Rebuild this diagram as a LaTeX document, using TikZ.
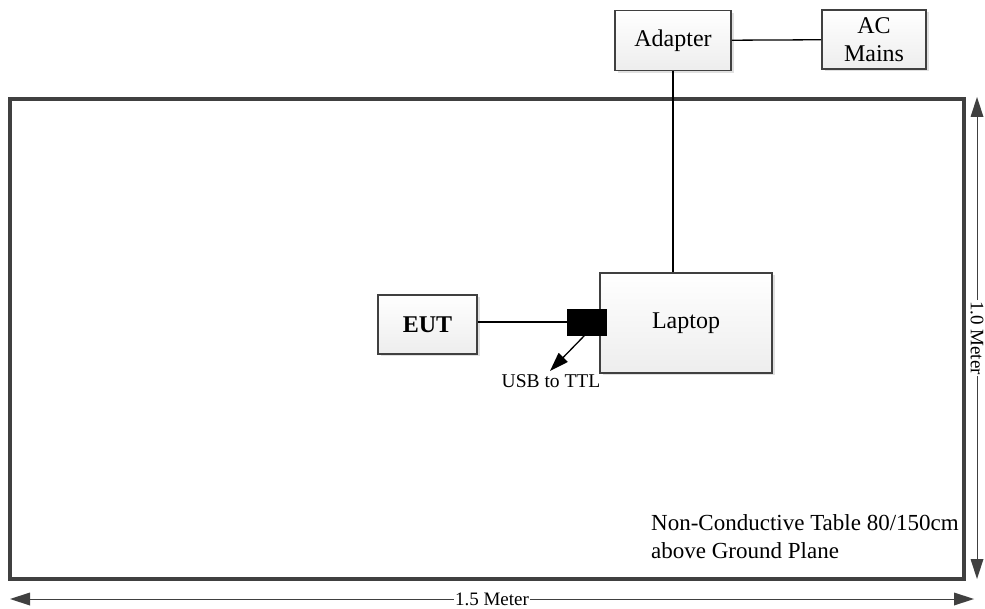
\documentclass[tikz,border=0pt]{standalone}
\usepackage{fontspec}
\setmainfont{Liberation Serif}
\usetikzlibrary{arrows.meta,shadows,calc}
\definecolor{edge}{HTML}{404040}
\tikzset{
  devbox/.style={draw=edge, line width=1.8pt, top color=white, bottom color=black!7,
    drop shadow={shadow xshift=2.5pt, shadow yshift=-2.5pt, fill=black!12, opacity=1},
    inner sep=0pt, align=center, font=\fontsize{24}{28}\selectfont},
  wire/.style={draw=black, line width=1.3pt},
  dimline/.style={draw=edge, line width=1pt},
  dimlabel/.style={fill=white, inner xsep=1pt, inner ysep=0pt, font=\fontsize{19}{22}\selectfont},
  tabletext/.style={anchor=base west, inner sep=0pt, font=\fontsize{23}{28}\selectfont},
  headtri/.style={fill=edge, draw=none}
}
\begin{document}
\begin{tikzpicture}[x=1pt,y=-1pt]
\useasboundingbox (0,0) rectangle (985,609);
% table
\draw[draw=edge, line width=3.5pt] (10,99) rectangle (964,579);
% boxes
\node[devbox, minimum width=116pt, minimum height=60pt] (adapter) at (673,40.5) {Adapter};
\node[devbox, minimum width=104pt, minimum height=59pt] (ac) at (874,39.5) {AC\\Mains};
\node[devbox, minimum width=172pt, minimum height=100pt] (laptop) at (686,323) {Laptop};
\node[devbox, minimum width=99pt, minimum height=59pt, font=\fontsize{24}{28}\selectfont\bfseries] (eut) at (427.5,324.5) {EUT};
\node[draw=black, fill=black, minimum width=39pt, minimum height=26pt, inner sep=0pt] (usb) at (587,322) {};
\node[inner sep=0pt, anchor=base, font=\fontsize{19.5}{22}\selectfont] (usblabel) at (551,388) {USB to TTL};
% connectors
\draw[wire] (adapter) -- (ac);
\draw[wire] (adapter.south) -- (adapter.south |- laptop.north);
\draw[wire] (eut.east |- usb.west) -- (usb.west);
\coordinate (usbtip) at (550,371);
\coordinate (usbtail) at (585,335);
\draw[wire] (usbtail) -- ($(usbtip)!15pt!(usbtail)$);
\fill[black] (usbtip) -- ($(usbtip)!19pt!(usbtail)!6.5pt!90:(usbtail)$) -- ($(usbtip)!19pt!(usbtail)!6.5pt!-90:(usbtail)$) -- cycle;
% dimensions
\coordinate (hL) at (10,599);
\coordinate (hR) at (974,599);
\draw[dimline] ([xshift=16pt]hL) -- node[dimlabel, pos=0.5] (hlab) {1.5 Meter} ([xshift=-16pt]hR);
\fill[headtri] (hL) -- ++(20,-6.5) -- ++(0,13) -- cycle;
\fill[headtri] (hR) -- ++(-20,-6.5) -- ++(0,13) -- cycle;
\coordinate (vT) at (977,97);
\coordinate (vB) at (977,579);
\draw[dimline] ([yshift=-16pt]vT) -- node[dimlabel, pos=0.5, rotate=-90] (vlab) {1.0 Meter} ([yshift=16pt]vB);
\fill[headtri] (vT) -- ++(-6.5,20) -- ++(13,0) -- cycle;
\fill[headtri] (vB) -- ++(-6.5,-20) -- ++(13,0) -- cycle;
% table caption
\node[tabletext] (cap1) at (651,530) {Non-Conductive Table 80/150cm};
\node[tabletext] (cap2) at (651,558) {above Ground Plane};
\end{tikzpicture}
\end{document}
